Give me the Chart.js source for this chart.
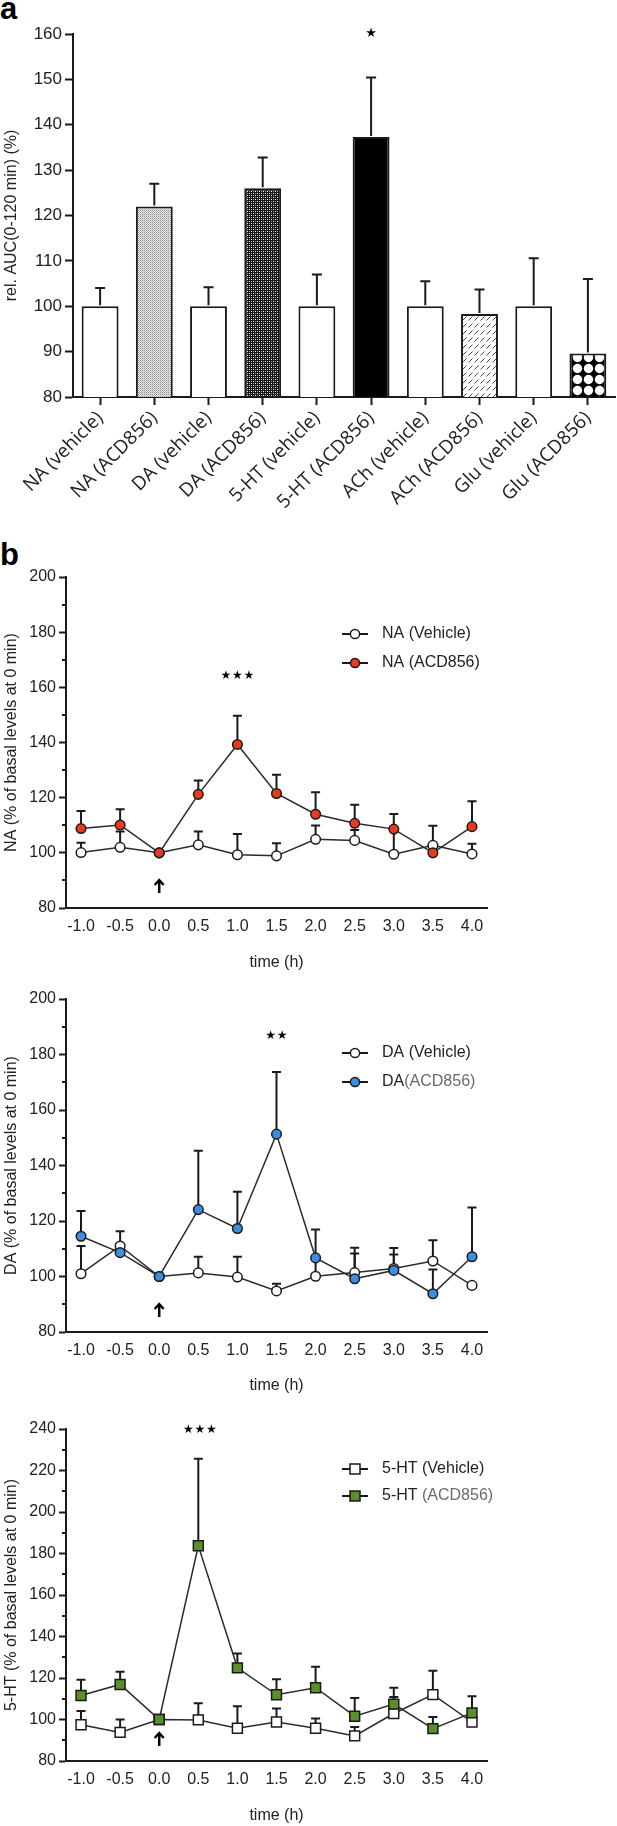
<!DOCTYPE html>
<html><head><meta charset="utf-8">
<script src="https://cdn.jsdelivr.net/npm/chart.js@4.4.1/dist/chart.umd.min.js"></script>
<style>
html,body{margin:0;padding:0;background:#fff;}
body{width:617px;height:1826px;position:relative;overflow:hidden;font-family:'Liberation Sans',Arial,sans-serif;}
canvas{position:absolute;left:0;}
.lab{position:absolute;left:0;font:bold 31px 'Liberation Sans',Arial,sans-serif;line-height:1;color:#000;}
</style></head><body>
<div class="lab" style="top:-7px">a</div>
<div class="lab" style="top:539px">b</div>
<canvas id="cA" width="617" height="520" style="top:0"></canvas>
<canvas id="cNA" width="617" height="440" style="top:545px"></canvas>
<canvas id="cDA" width="617" height="440" style="top:970px"></canvas>
<canvas id="cHT" width="617" height="426" style="top:1400px"></canvas>
<script>
// ---------- DATA ----------
const barCategories = ['NA (vehicle)','NA (ACD856)','DA (vehicle)','DA (ACD856)','5-HT (vehicle)','5-HT (ACD856)','ACh (vehicle)','ACh (ACD856)','Glu (vehicle)','Glu (ACD856)'];
const barValues = [100, 122, 100, 126, 100, 137.3, 100, 98.3, 100, 89.6];
const barErrors = [4.0, 5.0, 4.2, 6.8, 7.0, 13.1, 5.5, 5.4, 10.6, 16.4];
const barYTicks = [80, 90, 100, 110, 120, 130, 140, 150, 160];

const timeTicks = [-1.0, -0.5, 0.0, 0.5, 1.0, 1.5, 2.0, 2.5, 3.0, 3.5, 4.0];

const naVehicle    = [100.1, 102.0, 100.0, 102.9, 99.3, 98.9, 104.9, 104.5, 99.5, 102.7, 99.6];
const naVehicleErr = [3.6, 5.7, 0, 4.8, 7.5, 4.6, 5.0, 3.8, 9.0, 7.1, 3.7];
const naACD        = [108.8, 110.1, 100.0, 121.2, 139.3, 121.5, 114.0, 110.7, 108.6, 100.0, 109.5];
const naACDErr     = [6.4, 5.7, 0, 5.0, 10.4, 6.8, 8.0, 6.7, 5.5, 3.0, 9.2];

const daVehicle    = [101.0, 111.0, 100.0, 101.3, 99.8, 94.8, 100.1, 101.4, 102.9, 105.6, 96.8];
const daVehicleErr = [10.0, 5.3, 0, 5.8, 7.3, 2.6, 6.0, 6.9, 5.0, 7.5, 0];
const daACD        = [114.5, 108.6, 100.0, 124.1, 117.3, 151.3, 106.7, 99.2, 102.2, 93.8, 107.1];
const daACDErr     = [9.1, 3.0, 0, 21.2, 13.2, 22.4, 10.2, 11.2, 8.1, 8.7, 17.8];

const htVehicle    = [97.5, 93.8, 100.0, 99.8, 95.8, 98.8, 95.8, 92.1, 102.9, 112.0, 98.8];
const htVehicleErr = [6.6, 6.2, 0, 8.0, 10.6, 6.5, 4.7, 4.3, 8.0, 11.5, 0];
const htACD        = [111.6, 116.9, 100.0, 183.7, 124.9, 111.9, 115.3, 101.6, 107.4, 95.6, 103.2];
const htACDErr     = [7.5, 6.1, 0, 42.0, 6.9, 7.5, 10.1, 8.8, 7.9, 5.6, 8.0];

// ---------- STYLE ----------
Chart.defaults.font.family = "'Liberation Sans', Arial, sans-serif";
Chart.defaults.color = '#222';
const INK = '#1a1a1a';
const barFillKinds = ['white','dots','white','checker','white','black','white','hatch','white','circles'];

function makePattern(kind){
  const c = document.createElement('canvas');
  const g = c.getContext('2d');
  if(kind === 'white') return '#ffffff';
  if(kind === 'black') return '#000000';
  if(kind === 'dots'){
    c.width = 2; c.height = 2;
    g.fillStyle = '#e8e8e8'; g.fillRect(0,0,2,2);
    g.fillStyle = '#8c8c8c'; g.fillRect(0,0,1,1);
    g.fillStyle = '#bdbdbd'; g.fillRect(1,1,1,1);
  } else if(kind === 'checker'){
    c.width = 4; c.height = 4;
    g.fillStyle = '#151515'; g.fillRect(0,0,4,4);
    g.fillStyle = '#ffffff'; g.fillRect(1,1,1,1); g.fillRect(3,3,1,1);
    g.fillStyle = '#9a9a9a'; g.fillRect(3,1,1,1); g.fillRect(1,3,1,1);
  } else if(kind === 'hatch'){
    c.width = 6; c.height = 7;
    g.fillStyle = '#ffffff'; g.fillRect(0,0,6,7);
    g.strokeStyle = '#444'; g.lineWidth = 1;
    g.beginPath(); g.moveTo(0.5,5.5); g.lineTo(4.5,1.5); g.stroke();
  } else if(kind === 'circles'){
    c.width = 11; c.height = 11;
    g.fillStyle = '#000'; g.fillRect(0,0,11,11);
    g.fillStyle = '#fff'; g.beginPath(); g.arc(5.5,5.5,4.7,0,Math.PI*2); g.fill();
  }
  return g.createPattern(c,'repeat');
}

function drawStars(ctx, cx, cy, n, gap, size){
  ctx.save();
  ctx.fillStyle = '#000';
  ctx.font = size + "px 'DejaVu Sans'";
  ctx.textAlign = 'center'; ctx.textBaseline = 'middle';
  for(let i=0;i<n;i++){
    ctx.fillText('\u2605', cx + (i-(n-1)/2)*gap, cy);
  }
  ctx.restore();
}

// ---------- PANEL A (bars) ----------
const barErrPlugin = {
  id:'barErr',
  afterDatasetsDraw(chart){
    const ctx = chart.ctx, y = chart.scales.y, meta = chart.getDatasetMeta(0);
    ctx.save();
    ctx.strokeStyle = INK; ctx.lineWidth = 2;
    meta.data.forEach((bar,i)=>{
      const top = y.getPixelForValue(barValues[i] + barErrors[i]);
      ctx.beginPath();
      ctx.moveTo(bar.x, bar.y - 1); ctx.lineTo(bar.x, top);
      ctx.moveTo(bar.x - 5, top); ctx.lineTo(bar.x + 5, top);
      ctx.stroke();
    });
    ctx.restore();
    const star = meta.data[5];
    drawStars(ctx, star.x, y.getPixelForValue(160), 1, 0, 13);
  }
};

new Chart(document.getElementById('cA'), {
  type:'bar',
  data:{
    labels: barCategories,
    datasets:[{
      data: barValues,
      backgroundColor: barFillKinds.map(makePattern),
      borderColor: INK, borderWidth: 2,
      barPercentage: 0.68, categoryPercentage: 1
    }]
  },
  options:{
    responsive:false, animation:false, devicePixelRatio:1,
    layout:{padding:{top:34, right:2, left:0, bottom:0}},
    plugins:{legend:{display:false}, tooltip:{enabled:false}},
    scales:{
      x:{
        ticks:{minRotation:45, maxRotation:45, autoSkip:false, padding:2, color:'#222',
               font:{size:19, family:"'Open Sans', 'Liberation Sans', sans-serif"}},
        grid:{offset:false, drawOnChartArea:false, tickLength:8, tickColor:INK, tickWidth:2},
        border:{color:INK, width:2},
        afterFit(s){ s.height = 123; }
      },
      y:{
        min:80, max:160,
        afterBuildTicks(s){ s.ticks = barYTicks.map(v=>({value:v})); },
        ticks:{font:{size:17}, padding:3, color:'#222'},
        grid:{drawOnChartArea:false, tickLength:8, tickColor:INK, tickWidth:2},
        border:{color:INK, width:2},
        title:{display:true, text:'rel. AUC(0-120 min) (%)', font:{size:16}, color:'#222', padding:{top:1.5, bottom:0}},
        afterFit(s){ s.width = 73; }
      }
    }
  },
  plugins:[barErrPlugin]
});

// ---------- PANEL B (time courses) ----------
function lineChart(id, o){
  const pts = arr => timeTicks.map((t,i)=>({x:t, y:arr[i]}));
  const decor = {
    id:'decor_'+id,
    beforeDatasetsDraw(chart){
      const ctx = chart.ctx, x = chart.scales.x, y = chart.scales.y;
      ctx.save(); ctx.strokeStyle = INK; ctx.lineWidth = 2;
      [[o.veh,o.vehErr],[o.acd,o.acdErr]].forEach(([vals,errs])=>{
        vals.forEach((v,i)=>{
          if(!errs[i]) return;
          const px = x.getPixelForValue(timeTicks[i]);
          const py = y.getPixelForValue(v), pt = y.getPixelForValue(v + errs[i]);
          ctx.beginPath(); ctx.moveTo(px,py); ctx.lineTo(px,pt);
          ctx.moveTo(px-4.5,pt); ctx.lineTo(px+4.5,pt); ctx.stroke();
        });
      });
      ctx.restore();
    },
    afterDraw(chart){
      const ctx = chart.ctx, x = chart.scales.x, y = chart.scales.y, a = chart.chartArea;
      ctx.save();
      // minor y ticks
      ctx.strokeStyle = INK; ctx.lineWidth = 2;
      for(let v = y.min + 10; v < y.max; v += 20){
        const py = Math.round(y.getPixelForValue(v));
        ctx.beginPath(); ctx.moveTo(a.left - 4, py); ctx.lineTo(a.left, py); ctx.stroke();
      }
      // injection arrow at t = 0
      const ax = x.getPixelForValue(0), tip = a.bottom - 28, tail = a.bottom - 15;
      ctx.lineWidth = 2.5; ctx.strokeStyle = '#000';
      ctx.beginPath(); ctx.moveTo(ax, tail); ctx.lineTo(ax, tip + 1);
      ctx.moveTo(ax - 4.5, tip + 5); ctx.lineTo(ax, tip); ctx.lineTo(ax + 4.5, tip + 5); ctx.stroke();
      // legend
      o.legend.forEach((it, k)=>{
        const ly = a.top + it.dy;
        ctx.strokeStyle = INK; ctx.lineWidth = 2;
        ctx.beginPath(); ctx.moveTo(342, ly); ctx.lineTo(368, ly); ctx.stroke();
        ctx.fillStyle = k === 0 ? '#fff' : o.color;
        ctx.lineWidth = 1.5; ctx.strokeStyle = INK;
        ctx.beginPath();
        if(o.square){ ctx.rect(355-5, ly-5, 10, 10); }
        else { ctx.arc(355, ly, 4.6, 0, Math.PI*2); }
        ctx.fill(); ctx.stroke();
        ctx.font = "16px 'Liberation Sans Narrow', 'Liberation Sans', sans-serif";
        ctx.textBaseline = 'middle'; ctx.textAlign = 'left';
        ctx.fillStyle = '#222';
        ctx.fillText(it.a, 382, ly);
        const w = ctx.measureText(it.a).width;
        ctx.fillStyle = it.gray ? '#6a6a6a' : '#222';
        ctx.fillText(it.b, 382 + w, ly);
      });
      ctx.restore();
      drawStars(ctx, x.getPixelForValue(o.star.x), y.getPixelForValue(o.star.y), o.star.n, 11.5, 12);
    }
  };
  const ds = (vals, fill, order) => ({
    data: pts(vals), borderColor:'#2a2a2a', borderWidth:1.5, tension:0,
    pointStyle: o.square ? 'rect' : 'circle', pointRadius: o.square ? 7 : 4.8,
    pointBorderWidth:1.5, pointBorderColor:INK, pointBackgroundColor: fill, order
  });
  return new Chart(document.getElementById(id), {
    type:'line',
    data:{datasets:[ ds(o.veh,'#ffffff',1), ds(o.acd,o.color,0) ]},
    options:{
      responsive:false, animation:false, devicePixelRatio:1,
      layout:{padding:{top:o.padTop, right:130, left:0, bottom:0}},
      plugins:{legend:{display:false}, tooltip:{enabled:false}},
      scales:{
        x:{
          type:'linear', min:-1.192, max:4.192,
          afterBuildTicks(s){ s.ticks = timeTicks.map(v=>({value:v})); },
          ticks:{callback:v=>v.toFixed(1), font:{size:16}, color:'#222', padding:9, maxRotation:0, autoSkip:false},
          grid:{drawOnChartArea:false, drawTicks:false},
          border:{color:INK, width:2},
          title:{display:true, text:'time (h)', font:{size:16}, color:'#222', padding:{top:0, bottom:o.titlePad}},
          afterFit(s){ s.height = o.xH; }
        },
        y:{
          min:80, max:o.yMax,
          ticks:{stepSize:20, font:{size:16}, color:'#222', padding:3},
          grid:{drawOnChartArea:false, tickLength:7, tickColor:INK, tickWidth:2},
          border:{color:INK, width:2},
          title:{display:true, text:o.yTitle, font:{size:16}, color:'#222', padding:{top:2, bottom:0}},
          afterFit(s){ s.width = 66; }
        }
      }
    },
    plugins:[decor]
  });
}

lineChart('cNA', {
  veh:naVehicle, vehErr:naVehicleErr, acd:naACD, acdErr:naACDErr,
  color:'#e63b1f', square:false, yMax:200, yTitle:'NA (% of basal levels at 0 min)',
  padTop:32, xH:77, titlePad:13,
  legend:[{dy:57, a:'NA (Vehicle)', b:''},{dy:86, a:'NA (ACD856)', b:''}],
  star:{x:1.0, y:164, n:3}
});
lineChart('cDA', {
  veh:daVehicle, vehErr:daVehicleErr, acd:daACD, acdErr:daACDErr,
  color:'#3a8fe0', square:false, yMax:200, yTitle:'DA (% of basal levels at 0 min)',
  padTop:29, xH:78, titlePad:15,
  legend:[{dy:54, a:'DA ', b:'(Vehicle)'},{dy:83, a:'DA', b:'(ACD856)', gray:true}],
  star:{x:1.5, y:186.7, n:2}
});
lineChart('cHT', {
  veh:htVehicle, vehErr:htVehicleErr, acd:htACD, acdErr:htACDErr,
  color:'#5a8f2a', square:true, yMax:240, yTitle:'5-HT (% of basal levels at 0 min)',
  padTop:29, xH:65, titlePad:1,
  legend:[{dy:40, a:'5-HT ', b:'(Vehicle)'},{dy:67, a:'5-HT ', b:'(ACD856)', gray:true}],
  star:{x:0.52, y:239.5, n:3}
});
</script>
</body></html>
